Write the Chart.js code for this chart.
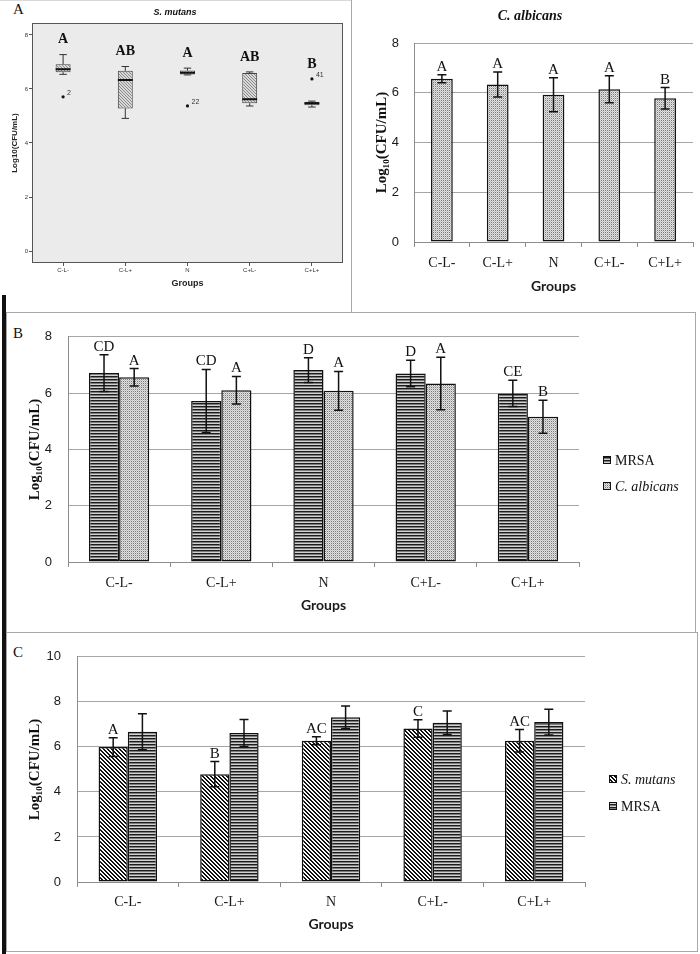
<!DOCTYPE html>
<html>
<head>
<meta charset="utf-8">
<script src="https://cdn.jsdelivr.net/npm/chart.js@4.4.1/dist/chart.umd.min.js"></script>
<style>
  body { margin: 0; background: #fff; width: 700px; height: 954px; position: relative; overflow: hidden; }
  canvas { position: absolute; }
  .line { position: absolute; background: #a8a8a8; }
  .panel { position: absolute; font: 15px 'Liberation Serif', serif; color: #111; }
</style>
</head>
<body>
<!-- panel frames -->
<div class="line" style="left:0;top:0;width:351px;height:1px;background:#d8d8d8"></div>
<div class="line" style="left:351px;top:0;width:1px;height:312px"></div>
<div class="line" style="left:6px;top:312px;width:689px;height:1px"></div>
<div class="line" style="left:6px;top:312px;width:1px;height:640px"></div>
<div class="line" style="left:695px;top:312px;width:1px;height:320px"></div>
<div class="line" style="left:6px;top:632px;width:691px;height:1px"></div>
<div class="line" style="left:697px;top:632px;width:1px;height:320px"></div>
<div class="line" style="left:6px;top:951px;width:691px;height:1px"></div>
<div class="line" style="left:2px;top:295px;width:4px;height:659px;background:#111"></div>

<div class="panel" style="left:13px;top:1px">A</div>
<div class="panel" style="left:13px;top:325px">B</div>
<div class="panel" style="left:13px;top:644px">C</div>

<canvas id="cA1" width="350" height="290" style="left:0;top:0"></canvas>
<canvas id="cA2" width="349" height="312" style="left:351px;top:0"></canvas>
<canvas id="cB" width="687" height="318" style="left:7px;top:313px"></canvas>
<canvas id="cC" width="688" height="318" style="left:7px;top:633px"></canvas>

<script>
// Groups on every x axis
const groups = ['C-L-', 'C-L+', 'N', 'C+L-', 'C+L+'];

// A (left): S. mutans box plot
const smWhiskerLo = [6.54, 4.91, 6.52, 5.37, 5.33];
const smQ1 = [6.62, 5.28, 6.53, 5.47, 5.40];
const smMedian = [6.73, 6.33, 6.60, 5.62, 5.47];
const smQ3 = [6.91, 6.67, 6.68, 6.59, 5.52];
const smWhiskerHi = [7.27, 6.83, 6.77, 6.63, 5.55];
const smOutliers = [5.71, null, 5.37, null, 6.37];
const smOutlierIds = ['2', '', '22', '', '41'];
const smLetters = ['A', 'AB', 'A', 'AB', 'B'];
const smTicks = [0, 2, 4, 6, 8];

// A (right): C. albicans
const caMeans = [6.56, 6.33, 5.92, 6.14, 5.78];
const caErr = [0.16, 0.50, 0.68, 0.54, 0.43];
const caLetters = ['A', 'A', 'A', 'A', 'B'];
const caTicks = [0, 2, 4, 6, 8];

// B: MRSA + C. albicans
const mrsaB = [6.71, 5.72, 6.82, 6.70, 5.99];
const mrsaBErr = [0.65, 1.12, 0.44, 0.47, 0.47];
const mrsaBLetters = ['CD', 'CD', 'D', 'D', 'CE'];
const caB = [6.56, 6.10, 6.08, 6.34, 5.16];
const caBErr = [0.31, 0.49, 0.69, 0.93, 0.59];
const caBLetters = ['A', 'A', 'A', 'A', 'B'];
const ticksB = [0, 2, 4, 6, 8];

// C: S. mutans + MRSA
const smC = [5.99, 4.79, 6.27, 6.82, 6.27];
const smCErr = [0.42, 0.56, 0.18, 0.39, 0.50];
const smCLetters = ['A', 'B', 'AC', 'C', 'AC'];
const mrsaC = [6.67, 6.62, 7.32, 7.07, 7.10];
const mrsaCErr = [0.80, 0.60, 0.50, 0.52, 0.57];
const ticksC = [0, 2, 4, 6, 8, 10];

const serif = "'Liberation Serif', serif";
const sans = "'Liberation Sans', sans-serif";

// fill patterns
function pattern(size, draw) {
  const c = document.createElement('canvas');
  c.width = c.height = size;
  const g = c.getContext('2d');
  draw(g, size);
  return g.createPattern(c, 'repeat');
}
const hLines = pattern(3, g => {
  g.fillStyle = '#d2d2d2'; g.fillRect(0, 0, 3, 3);
  g.fillStyle = '#1c1c1c'; g.fillRect(0, 0, 3, 1);
  g.fillStyle = '#7c7c7c'; g.fillRect(0, 1, 3, 1);
});
const dots = pattern(2, g => {
  g.fillStyle = '#e2e2e2'; g.fillRect(0, 0, 2, 2);
  g.fillStyle = '#7a7a7a'; g.fillRect(0, 0, 1, 1);
  g.fillStyle = '#bdbdbd'; g.fillRect(1, 1, 1, 1);
});
const diag = pattern(4, g => {
  g.fillStyle = '#fafafa'; g.fillRect(0, 0, 4, 4);
  g.fillStyle = '#111';
  for (let i = 0; i < 4; i++) { g.fillRect(i, i, 1, 1); g.fillRect((i + 1) % 4, i, 1, 1); }
});
const boxHatch = pattern(3, g => {
  g.fillStyle = '#d9d9d9'; g.fillRect(0, 0, 3, 3);
  g.fillStyle = '#8a8a8a';
  for (let i = 0; i < 3; i++) g.fillRect(i, i, 1, 1);
});

// error bars + significance letters
const errorBars = {
  id: 'errorBars',
  afterDatasetsDraw(chart) {
    const { ctx, scales: { y } } = chart;
    ctx.save();
    chart.data.datasets.forEach((ds, di) => {
      if (!ds.errors) return;
      chart.getDatasetMeta(di).data.forEach((bar, i) => {
        const top = y.getPixelForValue(ds.data[i] + ds.errors[i]);
        const bot = y.getPixelForValue(ds.data[i] - ds.errors[i]);
        ctx.strokeStyle = '#111';
        ctx.lineWidth = 1.5;
        ctx.beginPath();
        ctx.moveTo(bar.x, top); ctx.lineTo(bar.x, bot);
        ctx.moveTo(bar.x - 4.5, top); ctx.lineTo(bar.x + 4.5, top);
        ctx.moveTo(bar.x - 4.5, bot); ctx.lineTo(bar.x + 4.5, bot);
        ctx.stroke();
        if (ds.letters && ds.letters[i]) {
          ctx.fillStyle = '#111';
          ctx.font = '15px ' + serif;
          ctx.textAlign = 'center';
          ctx.textBaseline = 'alphabetic';
          ctx.fillText(ds.letters[i], bar.x, top - 4);
        }
      });
    });
    ctx.restore();
  }
};

// legend at the right side
const sideLegend = {
  id: 'sideLegend',
  afterDraw(chart, args, o) {
    if (o.x === undefined) return;
    const ctx = chart.ctx;
    ctx.save();
    chart.data.datasets.forEach((ds, i) => {
      const y = o.y + i * o.gap;
      ctx.fillStyle = ds.backgroundColor;
      ctx.fillRect(o.x, y - 4, 8, 8);
      ctx.strokeStyle = '#111';
      ctx.lineWidth = 1;
      ctx.strokeRect(o.x + 0.5, y - 3.5, 7, 7);
      ctx.font = (ds.italicLabel ? 'italic ' : '') + '14px ' + serif;
      ctx.fillStyle = '#111';
      ctx.textAlign = 'left';
      ctx.textBaseline = 'middle';
      ctx.fillText(ds.label, o.x + 12, y + 1);
    });
    ctx.restore();
  }
};

const panelTitle = {
  id: 'panelTitle',
  afterDraw(chart, args, o) {
    if (!o.text) return;
    const ctx = chart.ctx;
    ctx.save();
    ctx.font = o.font;
    ctx.fillStyle = '#111';
    ctx.textAlign = 'center';
    ctx.textBaseline = 'middle';
    ctx.fillText(o.text, o.x, o.y);
    ctx.restore();
  }
};

function barChart(id, datasets, ticks, L) {
  return new Chart(document.getElementById(id), {
    type: 'bar',
    data: { labels: groups, datasets: datasets },
    options: {
      responsive: false,
      animation: false,
      layout: { padding: { top: L.top, right: L.right, left: 0, bottom: 0 } },
      plugins: {
        legend: { display: false },
        tooltip: { enabled: false },
        sideLegend: L.legend || {},
        panelTitle: L.title || {}
      },
      scales: {
        x: {
          grid: { drawOnChartArea: false, tickLength: 5, color: '#8c8c8c' },
          border: { color: '#8c8c8c' },
          ticks: { font: { family: serif, size: 14 }, color: '#1a1a1a', padding: L.xPad },
          title: {
            display: true, text: 'Groups', color: '#1a1a1a',
            font: { family: "'Lato', sans-serif", weight: 'bold', size: 14 },
            padding: { top: 0, bottom: L.groupsPad }
          },
          afterFit: s => { s.height = L.xH; }
        },
        y: {
          min: ticks[0],
          max: ticks[ticks.length - 1],
          afterBuildTicks: s => { s.ticks = ticks.map(v => ({ value: v })); },
          grid: { color: '#a6a6a6', drawTicks: false },
          border: { color: '#8c8c8c' },
          ticks: { font: { family: sans, size: 13 }, color: '#1a1a1a', padding: L.yPad },
          title: {
            display: true, text: 'Log₁₀(CFU/mL)', color: '#111',
            font: { family: serif, weight: 'bold', size: 15 },
            padding: { top: L.titlePad, bottom: 0 }
          },
          afterFit: s => { s.width = L.yW; }
        }
      }
    },
    plugins: [errorBars, sideLegend, panelTitle]
  });
}

// ---- A left: box plot ----
const plotFrame = {
  id: 'plotFrame',
  beforeDraw(chart) {
    const { ctx, chartArea: a } = chart;
    ctx.save();
    ctx.fillStyle = '#ebebeb';
    ctx.fillRect(a.left, a.top, a.right - a.left, a.bottom - a.top);
    ctx.restore();
  },
  afterDraw(chart) {
    const { ctx, chartArea: a } = chart;
    ctx.save();
    ctx.strokeStyle = '#555';
    ctx.lineWidth = 1;
    ctx.strokeRect(a.left + 0.5, a.top + 0.5, a.right - a.left - 1, a.bottom - a.top - 1);
    ctx.restore();
  }
};

const boxWhiskers = {
  id: 'boxWhiskers',
  afterDatasetsDraw(chart) {
    const { ctx, scales: { y } } = chart;
    ctx.save();
    chart.getDatasetMeta(0).data.forEach((box, i) => {
      const x = box.x, half = box.width / 2, cap = box.width / 4;
      const q1 = y.getPixelForValue(smQ1[i]), q3 = y.getPixelForValue(smQ3[i]);
      const lo = y.getPixelForValue(smWhiskerLo[i]), hi = y.getPixelForValue(smWhiskerHi[i]);
      ctx.strokeStyle = '#333';
      ctx.lineWidth = 1;
      ctx.beginPath();
      ctx.moveTo(x, q3); ctx.lineTo(x, hi);
      ctx.moveTo(x - cap, hi); ctx.lineTo(x + cap, hi);
      ctx.moveTo(x, q1); ctx.lineTo(x, lo);
      ctx.moveTo(x - cap, lo); ctx.lineTo(x + cap, lo);
      ctx.stroke();
      const m = y.getPixelForValue(smMedian[i]);
      ctx.strokeStyle = '#111';
      ctx.lineWidth = 2;
      ctx.beginPath();
      ctx.moveTo(x - half, m); ctx.lineTo(x + half, m);
      ctx.stroke();
      if (smOutlierIds[i]) {
        ctx.fillStyle = '#333';
        ctx.font = '7px ' + sans;
        ctx.textAlign = 'left';
        ctx.textBaseline = 'middle';
        ctx.fillText(smOutlierIds[i], x + 4, y.getPixelForValue(smOutliers[i]) - 4);
      }
      const topVal = Math.max(smWhiskerHi[i], smOutliers[i] || 0);
      ctx.fillStyle = '#111';
      ctx.font = 'bold 14px ' + serif;
      ctx.textAlign = 'center';
      ctx.textBaseline = 'middle';
      ctx.fillText(smLetters[i], x, y.getPixelForValue(topVal) - 15);
    });
    ctx.restore();
  }
};

new Chart(document.getElementById('cA1'), {
  data: {
    labels: groups,
    datasets: [
      {
        type: 'bar',
        data: groups.map((g, i) => [smQ1[i], smQ3[i]]),
        backgroundColor: boxHatch,
        borderColor: '#444',
        borderWidth: 1,
        borderSkipped: false,
        barPercentage: 0.24,
        categoryPercentage: 1
      },
      {
        type: 'line',
        data: smOutliers,
        showLine: false,
        pointRadius: 1.6,
        pointBackgroundColor: '#111',
        pointBorderWidth: 0
      }
    ]
  },
  options: {
    responsive: false,
    animation: false,
    layout: { padding: { top: 23, right: 7, left: 0, bottom: 0 } },
    plugins: {
      legend: { display: false },
      tooltip: { enabled: false },
      panelTitle: { text: 'S. mutans', x: 175, y: 13, font: 'italic bold 9px ' + sans }
    },
    scales: {
      x: {
        grid: { offset: false, drawOnChartArea: false, tickLength: 3, color: '#555' },
        border: { display: false },
        ticks: { font: { family: sans, size: 6 }, color: '#333', padding: 1 },
        title: {
          display: true, text: 'Groups', color: '#222',
          font: { family: sans, weight: 'bold', size: 9 },
          padding: { top: 0, bottom: 1 }
        },
        afterFit: s => { s.height = 27; }
      },
      y: {
        min: -0.44,
        max: 8.44,
        afterBuildTicks: s => { s.ticks = smTicks.map(v => ({ value: v })); },
        grid: { drawOnChartArea: false, tickLength: 3, color: '#555' },
        border: { display: false },
        ticks: { font: { family: sans, size: 6 }, color: '#333', padding: 1 },
        title: {
          display: true, text: 'Log10(CFU/mL)', color: '#222',
          font: { family: sans, weight: 'bold', size: 8 },
          padding: { top: 10, bottom: 0 }
        },
        afterFit: s => { s.width = 32; }
      }
    }
  },
  plugins: [plotFrame, boxWhiskers, panelTitle]
});

// ---- A right: C. albicans ----
barChart('cA2', [
  {
    label: 'C. albicans', data: caMeans, errors: caErr, letters: caLetters,
    backgroundColor: dots, borderColor: '#111', borderWidth: 1.5, borderSkipped: false,
    categoryPercentage: 0.39, barPercentage: 1
  }
], caTicks, {
  top: 43, right: 7, yW: 63, xH: 70, xPad: 7.6, groupsPad: 17.6, yPad: 15, titlePad: 22,
  title: { text: 'C. albicans', x: 179, y: 16, font: 'italic bold 14px ' + serif }
});

// ---- B ----
barChart('cB', [
  {
    label: 'MRSA', data: mrsaB, errors: mrsaBErr, letters: mrsaBLetters,
    backgroundColor: hLines, borderColor: '#111', borderWidth: 1.5, borderSkipped: false,
    categoryPercentage: 0.59, barPercentage: 1
  },
  {
    label: 'C. albicans', italicLabel: true, data: caB, errors: caBErr, letters: caBLetters,
    backgroundColor: dots, borderColor: '#111', borderWidth: 1.5, borderSkipped: false,
    categoryPercentage: 0.59, barPercentage: 1
  }
], ticksB, {
  top: 16, right: 115, yW: 61, xH: 69, xPad: 7.6, groupsPad: 17.6, yPad: 16, titlePad: 19,
  legend: { x: 596, y: 147, gap: 26 }
});

// ---- C ----
barChart('cC', [
  {
    label: 'S. mutans', italicLabel: true, data: smC, errors: smCErr, letters: smCLetters,
    backgroundColor: diag, borderColor: '#111', borderWidth: 1.5, borderSkipped: false,
    categoryPercentage: 0.575, barPercentage: 1
  },
  {
    label: 'MRSA', data: mrsaC, errors: mrsaCErr,
    backgroundColor: hLines, borderColor: '#111', borderWidth: 1.5, borderSkipped: false,
    categoryPercentage: 0.575, barPercentage: 1
  }
], ticksC, {
  top: 15, right: 110, yW: 70, xH: 69, xPad: 6.6, groupsPad: 18.6, yPad: 16, titlePad: 19,
  legend: { x: 602, y: 146, gap: 27 }
});
</script>
</body>
</html>
